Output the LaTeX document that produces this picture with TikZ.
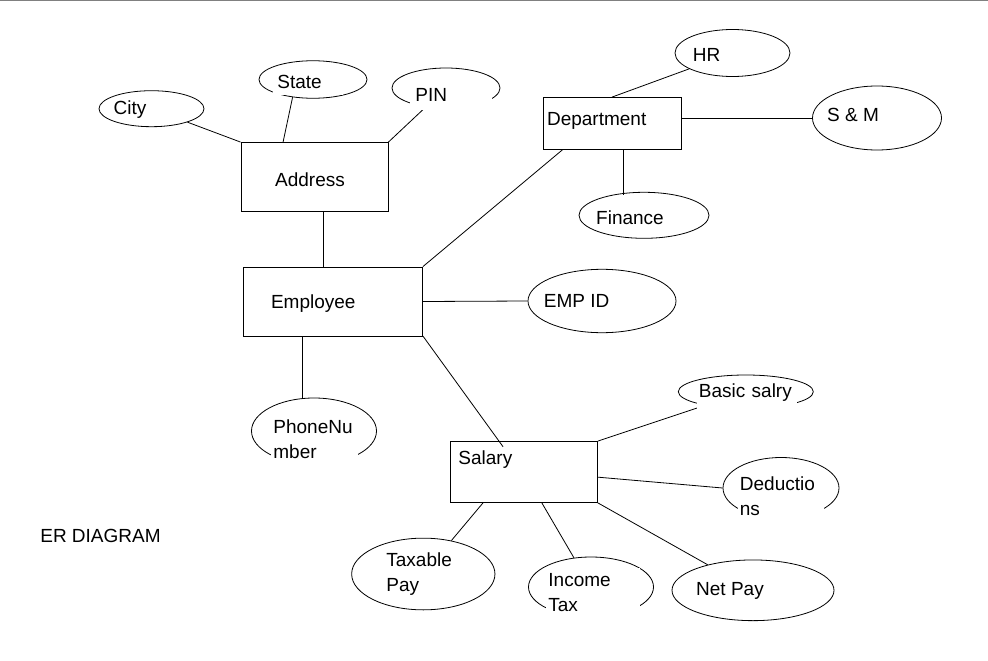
\documentclass[tikz,border=0pt]{standalone}
\usepackage{fontspec}
\setmainfont{Liberation Sans}
\usetikzlibrary{shapes.geometric}

\tikzset{
    entity/.style={draw, inner sep=0pt},
    attr/.style={draw, ellipse, inner sep=0pt},
    lbl/.style={font=\fontsize{19}{25}\selectfont, inner sep=1pt},
    cover/.style={lbl, fill=white, align=left, anchor=west},
}

\begin{document}
\begin{tikzpicture}[x=1pt, y=-1pt, line width=0.8pt]
        \useasboundingbox (0,0) rectangle (988,661);
        % thin rule along the top edge
        \draw[gray, line width=1pt] (0,0.5) -- (988,0.5);

        % the entities
        \node[entity, minimum width=147, minimum height=69] (address) at (314.5,177) {};
        \node[entity, minimum width=179, minimum height=69] (employee) at (333,301.5) {};
        \node[entity, minimum width=138, minimum height=52] (department) at (612,123.5) {};
        \node[entity, minimum width=147, minimum height=61] (salary) at (524,472) {};
        \node[lbl] (address-text) at (310,180) {Address};
        \node[lbl] (employee-text) at (313.3,304) {Employee};
        \node[lbl] (department-text) at (596.7,121) {Department};
        \node[lbl, anchor=west] (salary-text) at (457,460) {Salary};

        % address attributes
        \node[attr, minimum width=105, minimum height=36] (city) at (151.5,108.7) {};
        \node[attr, minimum width=108, minimum height=37.5] (state) at (313,79.5) {};
        \node[attr, minimum width=108, minimum height=40] (pin) at (446,88) {};
        \node[lbl] (city-text) at (130,110) {City};

        % department attributes
        \node[attr, minimum width=115, minimum height=47] (hr) at (732.5,53) {};
        \node[attr, minimum width=129, minimum height=64] (smm) at (877,118) {};
        \node[attr, minimum width=130, minimum height=46] (finance) at (644,215.3) {};
        \node[lbl] (hr-text) at (706.7,54.5) {HR};
        \node[lbl] (smm-text) at (853,114.5) {S \& M};
        \node[lbl] (finance-text) at (630,218) {Finance};

        % employee attributes
        \node[attr, minimum width=148, minimum height=63.4] (empid) at (602,301) {};
        \node[attr, minimum width=125, minimum height=66] (phone) at (314,431) {};
        \node[lbl] (empid-text) at (576.7,300.5) {EMP ID};

        % salary attributes
        \node[attr, minimum width=135, minimum height=33.4] (basic) at (745.8,391.7) {};
        \node[attr, minimum width=116, minimum height=61] (deductions) at (781,488) {};
        \node[attr, minimum width=162, minimum height=60.7] (netpay) at (753,590.3) {};
        \node[attr, minimum width=125, minimum height=60] (income) at (591,587) {};
        \node[attr, minimum width=143.3, minimum height=71.7] (taxable) at (423.3,574) {};
        \node[lbl] (netpay-text) at (730,590.5) {Net Pay};
        \node[lbl, align=left, text width=80, anchor=west] (taxable-text) at (385,574) {Taxable\\Pay};

        % links around address
        \draw (city) -- (address.north west);
        \draw (state.221) -- (address.132);
        \draw (pin) -- (address.north east);
        \draw (address.-76) -- (address.-76 |- employee.north);

        % links around department
        \draw (employee.north east) -- (department.208.7);
        \draw (hr) -- (department.north);
        \draw (department.east |- smm.west) -- (smm.west);
        \draw[shorten >=-3pt] (department.-66.7) -- (department.-66.7 |- finance.north);

        % links around employee
        \draw (employee.east) -- (empid.west);
        \draw (employee.229.4) -- (employee.229.4 |- phone.north);
        \draw[shorten >=-7pt] (employee.-21.8) -- (salary.129.6);

        % links around salary
        \draw (basic) -- (salary.north east);
        \draw (salary.-4.1) -- (deductions.west);
        \draw (netpay) -- (salary.south east);
        \draw (income) -- (salary.-60);
        \draw (taxable) -- (salary.217.5);

        % texts that run over their ellipse
        \node[cover, text width=62, inner xsep=4pt, text height=19pt, text depth=5.5pt] (state-text) at (273,81.75) {State};
        \node[cover, text width=72, inner xsep=5pt, text height=14pt, text depth=7.2pt] (pin-text) at (410,98.4) {PIN};
        \node[cover, text width=83, inner xsep=2pt, minimum height=54] (phone-text) at (271,439) {PhoneNu\\mber};
        \node[cover, text width=97, inner xsep=1.5pt, text height=14pt, text depth=11.5pt] (basic-text) at (697,396.25) {Basic salry};
        \node[cover, text width=83, inner xsep=1.5pt, minimum height=46] (deductions-text) at (738,496.5) {Deductio\\ns};
        \node[cover, text width=90, inner xsep=2pt, minimum height=50] (income-text) at (546,592.5) {Income\\Tax};

        % caption
        \node[lbl] (caption) at (100.5,536) {ER DIAGRAM};
\end{tikzpicture}
\end{document}
